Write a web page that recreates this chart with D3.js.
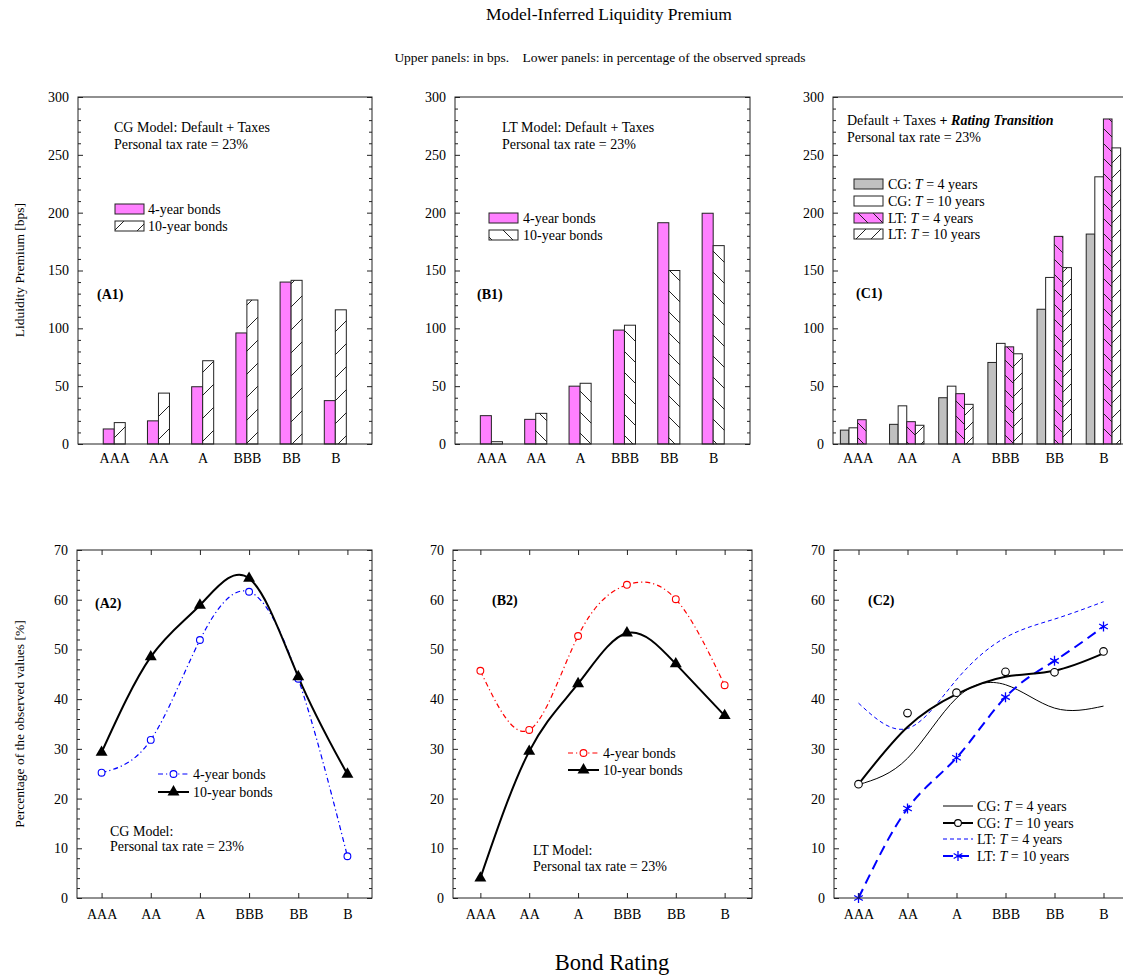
<!DOCTYPE html>
<html><head><meta charset="utf-8">
<script src="https://cdn.jsdelivr.net/npm/d3@7"></script>
<style>
body{margin:0;background:#fff}
text{font-family:"Liberation Serif","Times New Roman",serif;fill:#000}
</style>
</head><body>
<svg id="c" width="1123" height="976"></svg>
<script>
// ---------- data ----------
const ratings = ["AAA","AA","A","BBB","BB","B"];
const bpsTicks = [0,50,100,150,200,250,300];
const pctTicks = [0,10,20,30,40,50,60,70];

// Upper panels (bps)
const a1Bonds4 = [13, 20, 49.5, 96, 140, 37.5];
const a1Bonds10 = [18.5, 44, 72, 124.5, 141.5, 116];
const b1Bonds4 = [24.5, 21.3, 50, 98.5, 191.3, 199.5];
const b1Bonds10 = [2, 26.5, 52.5, 102.7, 150, 171.5];
const c1CG4 = [12, 17, 40, 70.5, 116.5, 181.5];
const c1CG10 = [14, 33, 50, 87, 144, 231];
const c1LT4 = [21, 19.3, 43.5, 84, 179.5, 281];
const c1LT10 = [0, 16.2, 34.3, 78, 152.5, 256];

// Lower panels (% of observed spreads)
const a2Bonds4 = [25.2, 31.8, 51.9, 61.6, 44.1, 8.4];
const a2Bonds10 = [29.3, 48.5, 58.9, 64.3, 44.5, 24.9];
const b2Bonds4 = [45.7, 33.8, 52.7, 63, 60.1, 42.8];
const b2Bonds10 = [4, 29.5, 43.1, 53.3, 47.1, 36.7];
const c2CG4 = [22.8, 28.1, 40.2, 42.9, 38.2, 38.6];
const c2CG10Points = [22.9, 37.2, 41.3, 45.5, 45.4, 49.6];
const c2CG10Curve = [22.9, 34.4, 41, 44.5, 45.7, 49.2];
const c2LT4 = [39.2, 34.1, 43.9, 52.4, 56.1, 59.6];
const c2LT10 = [0, 18, 28.2, 40.4, 47.7, 54.6];

// ---------- drawing ----------
const MAG = "#ff80ff", GRAY = "#c0c0c0", BLUE = "#0000ff", RED = "#ff0000", INK = "#222";
const FS = 14;
const svg = d3.select("#c");
const defs = svg.append("defs");

function hatch(id, size, bg, dir) {
  const p = defs.append("pattern").attr("id", id).attr("patternUnits", "userSpaceOnUse")
    .attr("width", size).attr("height", size);
  p.append("rect").attr("width", size).attr("height", size).attr("fill", bg);
  const s = size;
  const d = dir === "/"
    ? `M0,${s} L${s},0 M-2,2 L2,-2 M${s-2},${s+2} L${s+2},${s-2}`
    : `M0,0 L${s},${s} M-2,${s-2} L2,${s+2} M${s-2},-2 L${s+2},2`;
  p.append("path").attr("d", d).attr("stroke", INK).attr("stroke-width", 1).attr("fill", "none");
}
hatch("slashA", 23, "#fff", "/");
hatch("backB", 21, "#fff", "\\");
hatch("backC", 15, MAG, "\\");
hatch("slashC", 15, "#fff", "/");

function panel(o) {
  const x = d3.scaleLinear().domain(o.xdom).range([o.left, o.right]);
  const y = d3.scaleLinear().domain(o.ydom).range([o.bottom, o.top]);
  const g = svg.append("g");
  const marks = g.append("g");
  const axes = g.append("g");
  return {x, y, g, marks, axes, o};
}

function frame(p, opts) {
  const {x, y, axes, o} = p;
  const minor = d3.range(o.ydom[0], o.ydom[1] + 1e-9, opts.minorStep).filter(v => !opts.major.includes(v));
  axes.append("g").attr("transform", `translate(${o.left},0)`)
    .call(d3.axisLeft(y).tickValues(opts.major).tickSizeInner(-5).tickSizeOuter(0).tickPadding(9).tickFormat(d3.format("d")))
    .call(g => g.select(".domain").remove())
    .call(g => g.selectAll("line").attr("stroke", INK))
    .call(g => g.selectAll("text").attr("font-size", FS).attr("font-family", "Liberation Serif").attr("fill", "#000"));
  axes.append("g").attr("transform", `translate(${o.left},0)`)
    .call(d3.axisLeft(y).tickValues(minor).tickSizeInner(-3).tickSizeOuter(0).tickFormat(""))
    .call(g => g.select(".domain").remove())
    .call(g => g.selectAll("line").attr("stroke", INK));
  axes.append("g").attr("transform", `translate(${o.right},0)`)
    .call(d3.axisRight(y).tickValues(opts.major).tickSizeInner(-5).tickSizeOuter(0).tickFormat(""))
    .call(g => g.select(".domain").remove())
    .call(g => g.selectAll("line").attr("stroke", INK));
  axes.append("g").attr("transform", `translate(${o.right},0)`)
    .call(d3.axisRight(y).tickValues(minor).tickSizeInner(-3).tickSizeOuter(0).tickFormat(""))
    .call(g => g.select(".domain").remove())
    .call(g => g.selectAll("line").attr("stroke", INK));
  axes.append("g").attr("transform", `translate(0,${o.bottom})`)
    .call(d3.axisBottom(x).tickValues(d3.range(ratings.length)).tickSizeInner(opts.xTicks ? -5 : 0)
      .tickSizeOuter(0).tickPadding(opts.xTicks ? 11 : 9).tickFormat(i => ratings[i]))
    .call(g => g.select(".domain").remove())
    .call(g => g.selectAll("line").attr("stroke", INK))
    .call(g => g.selectAll("text").attr("font-size", FS).attr("font-family", "Liberation Serif").attr("fill", "#000"));
  if (opts.xTicks) {
    axes.append("g").attr("transform", `translate(0,${o.top})`)
      .call(d3.axisTop(x).tickValues(d3.range(ratings.length)).tickSizeInner(-5).tickSizeOuter(0).tickFormat(""))
      .call(g => g.select(".domain").remove())
      .call(g => g.selectAll("line").attr("stroke", INK));
  }
  axes.append("rect").attr("x", o.left).attr("y", o.top)
    .attr("width", o.right - o.left).attr("height", o.bottom - o.top)
    .attr("fill", "none").attr("stroke", INK).attr("stroke-width", 1);
}

function bars(p, series, bw) {
  const {x, y, marks} = p;
  const n = series.length;
  series.forEach((s, k) => {
    const off = (k - n / 2) * bw;
    marks.append("g").selectAll("rect").data(s.vals).join("rect")
      .attr("x", (d, i) => x(i + off))
      .attr("width", x(bw) - x(0))
      .attr("y", d => y(d))
      .attr("height", d => y(0) - y(d))
      .attr("fill", s.fill).attr("stroke", INK).attr("stroke-width", 1);
  });
}

function curve(p, vals, style) {
  const {x, y, marks} = p;
  const line = d3.line().x((d, i) => x(i)).y(d => y(d)).curve(d3.curveNatural);
  marks.append("path").datum(vals).attr("d", line).attr("fill", "none")
    .attr("stroke", style.color).attr("stroke-width", style.width)
    .attr("stroke-dasharray", style.dash || null);
}

function markers(p, vals, kind, color) {
  const {x, y, marks} = p;
  const g = marks.append("g");
  vals.forEach((v, i) => drawMarker(g, x(i), y(v), kind, color));
}

function drawMarker(g, cx, cy, kind, color) {
  if (kind === "circle") {
    g.append("circle").attr("cx", cx).attr("cy", cy).attr("r", 3.4)
      .attr("fill", "#fff").attr("stroke", color).attr("stroke-width", 1.1);
  } else if (kind === "circleBig") {
    g.append("circle").attr("cx", cx).attr("cy", cy).attr("r", 3.8)
      .attr("fill", "#fff").attr("stroke", color).attr("stroke-width", 1.1);
  } else if (kind === "triangle") {
    g.append("path").attr("d", d3.symbol(d3.symbolTriangle, 62)())
      .attr("transform", `translate(${cx},${cy})`).attr("fill", color);
  } else if (kind === "asterisk") {
    g.append("path").attr("d", d3.symbol(d3.symbolAsterisk, 70)())
      .attr("transform", `translate(${cx},${cy})`).attr("fill", "none")
      .attr("stroke", color).attr("stroke-width", 1.3);
  }
}

function text(x, y, str, opts = {}) {
  const t = svg.append("text").attr("x", x).attr("y", y).attr("font-size", opts.size || FS)
    .attr("text-anchor", opts.anchor || "start");
  if (opts.bold) t.attr("font-weight", "bold");
  if (opts.rotate) t.attr("transform", `rotate(-90,${x},${y})`);
  if (Array.isArray(str)) {
    str.forEach(s => {
      const ts = t.append("tspan").text(s.t);
      if (s.b) ts.attr("font-weight", "bold");
      if (s.i) ts.attr("font-style", "italic");
    });
  } else t.text(str);
  return t;
}

function swatch(x, yc, fill) {
  svg.append("rect").attr("x", x).attr("y", yc - 5).attr("width", 29).attr("height", 10)
    .attr("fill", fill).attr("stroke", INK).attr("stroke-width", 1);
}

function legLine(x1, x2, yc, style, marker, mcolor) {
  svg.append("line").attr("x1", x1).attr("x2", x2).attr("y1", yc).attr("y2", yc)
    .attr("stroke", style.color).attr("stroke-width", style.width)
    .attr("stroke-dasharray", style.dash || null);
  if (marker) drawMarker(svg, (x1 + x2) / 2, yc, marker, mcolor);
}

// ---- titles ----
text(609, 20, "Model-Inferred Liquidity Premium", {size: 17.5, anchor: "middle"});
text(600, 62, "Upper panels: in bps.    Lower panels: in percentage of the observed spreads", {size: 13.5, anchor: "middle"})
  .attr("xml:space", "preserve").style("white-space", "pre");
text(612, 970, "Bond Rating", {size: 22.5, anchor: "middle"});
text(24, 270, "Liduidity Premium [bps]", {size: 13.5, anchor: "middle", rotate: true});
text(24, 724, "Percentage of the observed values [%]", {size: 13.5, anchor: "middle", rotate: true});

const upperY = {top: 97, bottom: 444, ydom: [0, 300]};
const lowerY = {top: 550, bottom: 898, ydom: [0, 70]};
const upperAxis = {major: bpsTicks, minorStep: 10, xTicks: false};
const lowerAxis = {major: pctTicks, minorStep: 2, xTicks: true};

// ---- A1 ----
const A1 = panel({left: 78, right: 372, xdom: [-0.82, 5.83], ...upperY});
bars(A1, [{vals: a1Bonds4, fill: MAG}, {vals: a1Bonds10, fill: "url(#slashA)"}], 0.249);
frame(A1, upperAxis);
text(114, 132, "CG Model: Default + Taxes");
text(114, 149, "Personal tax rate = 23%");
swatch(115, 209, MAG); text(148, 214, "4-year bonds");
swatch(115, 226, "url(#slashA)"); text(148, 231, "10-year bonds");
text(97, 298.5, "(A1)", {bold: true});

// ---- B1 ----
const B1 = panel({left: 455, right: 750, xdom: [-0.82, 5.83], ...upperY});
bars(B1, [{vals: b1Bonds4, fill: MAG}, {vals: b1Bonds10, fill: "url(#backB)"}], 0.249);
frame(B1, upperAxis);
text(502, 132, "LT Model: Default + Taxes");
text(502, 149, "Personal tax rate = 23%");
swatch(489, 218, MAG); text(523, 223, "4-year bonds");
swatch(489, 235, "url(#backB)"); text(523, 240, "10-year bonds");
text(477, 298.5, "(B1)", {bold: true});

// ---- C1 ----
const C1 = panel({left: 833, right: 1128, xdom: [-0.5, 5.5], ...upperY});
bars(C1, [{vals: c1CG4, fill: GRAY}, {vals: c1CG10, fill: "#fff"}, {vals: c1LT4, fill: "url(#backC)"}, {vals: c1LT10, fill: "url(#slashC)"}], 0.175);
frame(C1, upperAxis);
text(847, 125, [{t: "Default + Taxes "}, {t: "+ ", b: true}, {t: "Rating Transition", b: true, i: true}]);
text(847, 142, "Personal tax rate = 23%");
const c1Leg = [[GRAY, "CG: ", " = 4 years"], ["#fff", "CG: ", "= 10 years"], ["url(#backC)", "LT: ", " = 4 years"], ["url(#slashC)", "LT: ", "= 10 years"]];
[184, 201, 218, 234].forEach((yc, k) => {
  swatch(854, yc, c1Leg[k][0]);
  text(888, yc + 5, [{t: c1Leg[k][1]}, {t: "T", i: true}, {t: (k % 2 ? " " : "") + c1Leg[k][2]}]);
});
text(856, 297.5, "(C1)", {bold: true});

// ---- A2 ----
const dashDot = "5,3,1.2,3";
const A2 = panel({left: 77, right: 372, xdom: [-0.5, 5.5], ...lowerY});
curve(A2, a2Bonds4, {color: BLUE, width: 1.2, dash: dashDot});
curve(A2, a2Bonds10, {color: "#000", width: 2});
markers(A2, a2Bonds4, "circle", BLUE);
markers(A2, a2Bonds10, "triangle", "#000");
frame(A2, lowerAxis);
text(95, 608, "(A2)", {bold: true});
legLine(158, 189, 774, {color: BLUE, width: 1.2, dash: dashDot}, "circle", BLUE);
text(193, 779, "4-year bonds");
legLine(158, 189, 792, {color: "#000", width: 2}, "triangle", "#000");
text(193, 797, "10-year bonds");
text(110, 836, "CG Model:");
text(110, 851, "Personal tax rate = 23%");

// ---- B2 ----
const B2 = panel({left: 453, right: 752, xdom: [-0.56, 5.56], ...lowerY});
curve(B2, b2Bonds4, {color: RED, width: 1.2, dash: dashDot});
curve(B2, b2Bonds10, {color: "#000", width: 2});
markers(B2, b2Bonds4, "circle", RED);
markers(B2, b2Bonds10, "triangle", "#000");
frame(B2, lowerAxis);
text(492, 605, "(B2)", {bold: true});
legLine(568, 599, 753, {color: RED, width: 1.2, dash: dashDot}, "circle", RED);
text(603, 758, "4-year bonds");
legLine(568, 599, 770, {color: "#000", width: 2}, "triangle", "#000");
text(603, 775, "10-year bonds");
text(533, 855, "LT Model:");
text(533, 871, "Personal tax rate = 23%");

// ---- C2 ----
const C2 = panel({left: 834, right: 1128, xdom: [-0.5, 5.5], ...lowerY});
const sCG4 = {color: "#000", width: 1};
const sCG10 = {color: "#000", width: 2};
const sLT4 = {color: BLUE, width: 1, dash: "4,3"};
const sLT10 = {color: BLUE, width: 2, dash: "10,6"};
curve(C2, c2LT4, sLT4);
curve(C2, c2CG4, sCG4);
curve(C2, c2LT10, sLT10);
curve(C2, c2CG10Curve, sCG10);
markers(C2, c2CG10Points, "circleBig", "#000");
markers(C2, c2LT10, "asterisk", BLUE);
frame(C2, lowerAxis);
text(868, 605, "(C2)", {bold: true});
const c2Leg = [[sCG4, null, "CG: ", " = 4 years"], [sCG10, "circle", "CG: ", "= 10 years"], [sLT4, null, "LT: ", " = 4 years"], [sLT10, "asterisk", "LT: ", "= 10 years"]];
[806, 823, 839, 856].forEach((yc, k) => {
  const [st, mk, a, b] = c2Leg[k];
  legLine(943, 973, yc, st, mk, st.color);
  text(977, yc + 5, [{t: a}, {t: "T", i: true}, {t: (k % 2 ? " " : "") + b}]);
});
</script>
</body></html>
